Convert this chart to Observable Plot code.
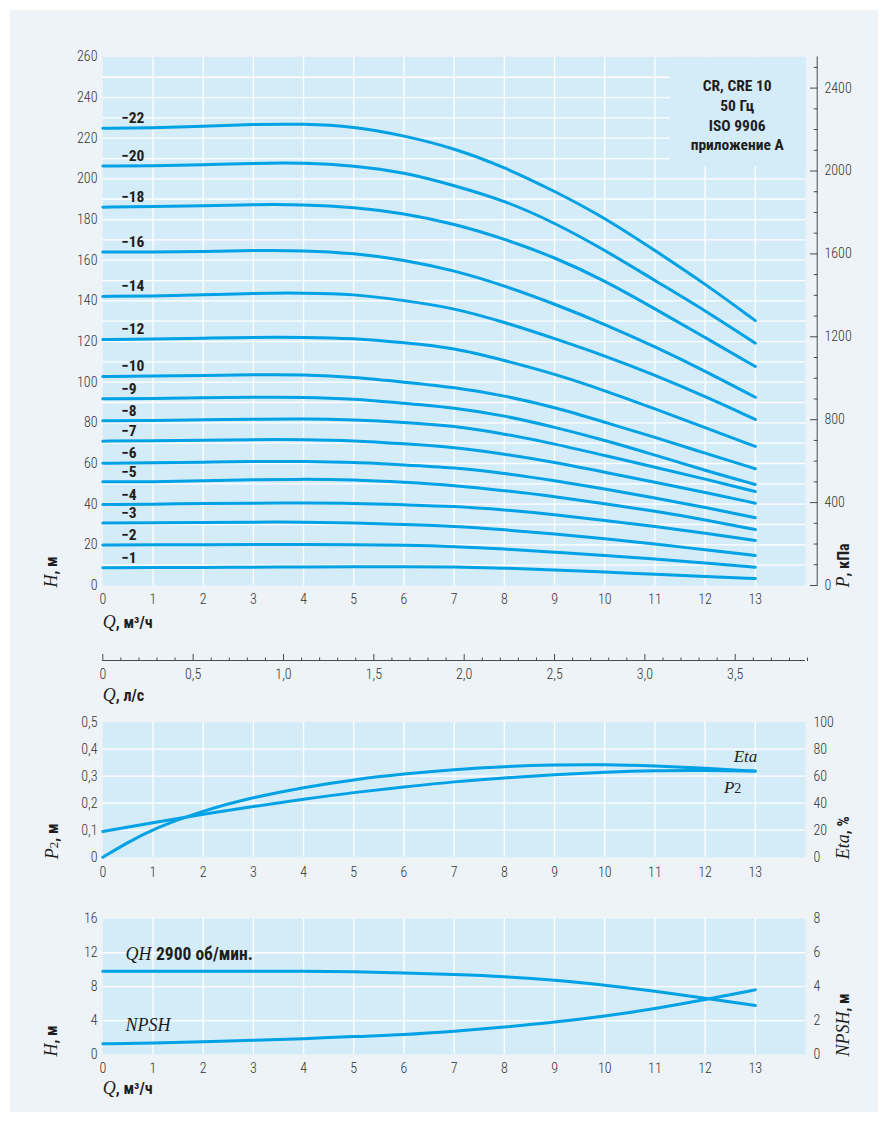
<!DOCTYPE html>
<html>
<head>
<meta charset="utf-8">
<script src="https://cdn.jsdelivr.net/npm/d3@7"></script>
<script src="https://cdn.jsdelivr.net/npm/@observablehq/plot@0.6"></script>
<style>
  html, body { margin: 0; padding: 0; background: #ffffff; }
  #page { position: relative; width: 888px; height: 1122px; overflow: hidden; }
  #panel { position: absolute; left: 10px; top: 10px; width: 868px; height: 1102px; background: #eef3f7; }
  #charts { position: absolute; left: 0; top: 0; width: 888px; }
  #charts svg { display: block; background: transparent; }
</style>
</head>
<body>
<div id="page">
  <div id="panel"></div>
  <div id="charts"></div>
</div>
<script>
// ---- data: CR / CRE 10, 50 Hz performance curves ----
const flow = [0, 1, 2, 3, 4, 5, 6, 7, 8, 9, 10, 11, 12, 13];            // Q, m³/h

// Head per pump variant (number of stages), H in m
const head22 = [224.9, 225.1, 225.9, 226.8, 227.1, 225.8, 221.3, 215.1, 205.8, 194.0, 180.9, 164.8, 148.4, 130.3];
const head20 = [206.3, 206.4, 206.9, 207.7, 207.9, 206.6, 203.3, 196.8, 189.4, 178.5, 165.0, 150.0, 135.3, 119.2];
const head18 = [186.1, 186.4, 186.8, 187.4, 187.4, 186.1, 183.1, 177.9, 170.5, 161.5, 150.0, 136.1, 122.0, 107.7];
const head16 = [164.0, 164.0, 164.3, 164.8, 164.8, 163.5, 160.2, 155.0, 147.5, 138.5, 128.5, 117.5, 105.5, 92.6];
const head14 = [142.2, 142.3, 142.9, 143.8, 143.9, 143.4, 140.2, 136.5, 129.5, 121.5, 113.0, 103.5, 93.0, 81.7];
const head12 = [121.0, 121.2, 121.6, 122.1, 122.1, 121.6, 119.4, 116.9, 110.7, 104.1, 95.9, 86.9, 77.6, 68.4];
const head10 = [102.8, 103.0, 103.2, 103.7, 103.7, 102.5, 100.0, 97.5, 93.4, 87.7, 80.3, 72.9, 65.1, 57.4];
const head9  = [91.8, 92.0, 92.3, 92.6, 92.6, 91.8, 89.6, 87.5, 83.6, 77.9, 71.5, 64.2, 56.6, 49.7];
const head8  = [81.0, 81.1, 81.5, 81.8, 82.0, 81.5, 80.3, 78.5, 74.6, 69.7, 63.9, 58.2, 52.4, 46.2];
const head7  = [71.0, 71.2, 71.5, 71.8, 71.8, 71.3, 69.7, 68.0, 64.7, 60.6, 55.7, 50.8, 45.8, 40.5];
const head6  = [60.1, 60.3, 60.6, 61.0, 61.0, 60.6, 59.3, 58.0, 55.2, 51.6, 47.5, 43.1, 38.5, 33.3];
const head5  = [51.0, 51.0, 51.5, 52.0, 52.3, 52.0, 50.8, 49.3, 46.7, 43.8, 40.2, 36.6, 32.3, 27.5];
const head4  = [39.8, 40.0, 40.3, 40.5, 40.6, 40.5, 39.7, 39.0, 37.2, 34.9, 32.0, 29.0, 25.8, 22.1];
const head3  = [30.7, 30.8, 31.0, 31.2, 31.2, 30.8, 30.0, 29.2, 27.4, 25.4, 23.0, 20.5, 17.5, 14.8];
const head2  = [19.9, 20.0, 20.1, 20.2, 20.2, 20.1, 19.8, 19.2, 18.0, 16.4, 14.8, 13.1, 11.0, 9.0];
const head1  = [8.7, 8.8, 8.9, 9.0, 9.1, 9.2, 9.3, 9.1, 8.6, 7.7, 6.6, 5.5, 4.4, 3.4];

const stageLabels = ["−22", "−20", "−18", "−16", "−14", "−12", "−10", "−9", "−8", "−7", "−6", "−5", "−4", "−3", "−2", "−1"];
const stageHeads  = [head22, head20, head18, head16, head14, head12, head10, head9, head8, head7, head6, head5, head4, head3, head2, head1];

// Shaft power P2 and efficiency
const powerP2 = [0.095, 0.128, 0.160, 0.188, 0.215, 0.240, 0.260, 0.280, 0.294, 0.306, 0.315, 0.321, 0.322, 0.319];
const etaFlow = [0, 0.5, 1, 2, 3, 4, 5, 6, 7, 8, 9, 10, 11, 12, 13];
const etaPct  = [0, 11, 21, 34.6, 44.4, 51.8, 57.5, 61.7, 65.0, 67.2, 68.4, 68.7, 67.7, 66.0, 63.7];

// Single-stage QH at 2900 rpm and NPSH
const qh2900 = [9.82, 9.82, 9.82, 9.82, 9.82, 9.79, 9.63, 9.43, 9.20, 8.80, 8.20, 7.47, 6.64, 5.78];
const npsh   = [0.63, 0.67, 0.75, 0.83, 0.93, 1.06, 1.16, 1.36, 1.61, 1.90, 2.26, 2.70, 3.24, 3.81];

// Axis ticks
const flowTicks     = [0, 1, 2, 3, 4, 5, 6, 7, 8, 9, 10, 11, 12, 13];
const headTicks     = [0, 20, 40, 60, 80, 100, 120, 140, 160, 180, 200, 220, 240, 260];
const kpaMajor      = [0, 400, 800, 1200, 1600, 2000, 2400];
const kpaMinor      = [100, 200, 300, 500, 600, 700, 900, 1000, 1100, 1300, 1400, 1500, 1700, 1800, 1900, 2100, 2200, 2300, 2500];
const lpsMajor      = [0, 0.5, 1.0, 1.5, 2.0, 2.5, 3.0, 3.5];
const lpsMinor      = [0.1, 0.2, 0.3, 0.4, 0.6, 0.7, 0.8, 0.9, 1.1, 1.2, 1.3, 1.4, 1.6, 1.7, 1.8, 1.9, 2.1, 2.2, 2.3, 2.4, 2.6, 2.7, 2.8, 2.9, 3.1, 3.2, 3.3, 3.4, 3.6, 3.7, 3.8, 3.9];
const powerTicks    = [0, 0.1, 0.2, 0.3, 0.4, 0.5];
const etaTicks      = [0, 20, 40, 60, 80, 100];
const npshHeadTicks = [0, 4, 8, 12, 16];
const npshTicks     = [0, 2, 4, 6, 8];

// ---- unit conversions ----
const KPA_PER_M = 9.81;      // kPa per metre of water
const M3H_PER_LPS = 3.6;     // m³/h per l/s
const ETA_PER_KW = 200;      // % per kW on the shared P2/Eta frame
const HEAD_PER_NPSH = 2;     // left H scale vs right NPSH scale

// ---- styling ----
const CURVE = "#00a2e5";
const PLOT_BG = "#d4ebf8";
const GRID = "#ffffff";
const AXIS = "#4a4a4a";
const INK = "#1e1e1e";
const NARROW = "'Roboto Condensed', 'Liberation Sans Narrow', 'DejaVu Sans Condensed', Roboto, sans-serif";
const SERIF = "'Liberation Serif', 'DejaVu Serif', serif";

const decimalComma = v => v === 0 ? "0" : v.toFixed(1).replace(".", ",");

const base = {
  width: 888,
  marginLeft: 102.3,
  marginRight: 83,
  x: {domain: [0, 14]},
  style: {background: "transparent", fontFamily: NARROW, fontSize: "14px", fontWeight: 300, color: "#333"}
};
const gridStyle = {stroke: GRID, strokeOpacity: 1, strokeWidth: 1.3};
const curveStyle = {stroke: CURVE, strokeWidth: 3, curve: "basis"};

// ---- tables ----
const stageTable = stageHeads.flatMap((h, i) => h.map((v, j) => ({stage: stageLabels[i], q: flow[j], h: v})));
const stageStarts = stageHeads.map((h, i) => ({stage: stageLabels[i], q: flow[0], h: h[0]}));
const p2Table = flow.map((q, i) => ({q, p: powerP2[i]}));
const etaTable = etaFlow.map((q, i) => ({q, p: etaPct[i] / ETA_PER_KW}));
const qhTable = flow.map((q, i) => ({q, h: qh2900[i]}));
const npshTable = flow.map((q, i) => ({q, h: npsh[i] * HEAD_PER_NPSH}));

// ---- chart 1: QH family with pressure and l/s axes ----
const chart1 = Plot.plot({
  ...base,
  height: 712,
  marginTop: 56.4,
  marginBottom: 127,
  y: {domain: [0, 260]},
  marks: [
    Plot.frame({fill: PLOT_BG, stroke: "none"}),
    Plot.gridX(flowTicks.slice(1), gridStyle),
    Plot.gridY(d3.range(10, 260, 10), gridStyle),
    // clear area behind the type designation block
    Plot.frame({fill: PLOT_BG, stroke: "none", insetLeft: 566.7, insetBottom: 419}),
    Plot.line(stageTable, {x: "q", y: "h", z: "stage", ...curveStyle}),
    Plot.text(stageStarts, {x: "q", y: "h", text: "stage", textAnchor: "start", dx: 18.4, dy: -10,
      fontWeight: 700, fontSize: 15.5, fill: INK}),
    Plot.axisY(headTicks, {anchor: "left", tickSize: 0, tickPadding: 5.3, label: null}),
    Plot.axisX(flowTicks, {anchor: "bottom", tickSize: 0, tickPadding: 9, label: null}),
    // pressure axis on the right
    Plot.ruleX([14], {dx: 11.7, stroke: AXIS}),
    Plot.axisY(kpaMajor.map(p => p / KPA_PER_M), {anchor: "right", dx: 4, tickSize: 7.7, tickPadding: 7.3,
      tickFormat: v => String(Math.round(v * KPA_PER_M)), stroke: AXIS, label: null}),
    Plot.axisY(kpaMinor.map(p => p / KPA_PER_M), {anchor: "right", dx: 7.7, tickSize: 4,
      tickFormat: () => "", stroke: AXIS, label: null}),
    // flow in l/s below
    Plot.ruleY([0], {dy: 75, stroke: AXIS}),
    Plot.axisX(lpsMajor.map(v => v * M3H_PER_LPS), {anchor: "top", dy: 603.6, tickSize: 7,
      tickFormat: () => "", stroke: AXIS, label: null}),
    Plot.axisX(lpsMinor.map(v => v * M3H_PER_LPS), {anchor: "top", dy: 603.6, tickSize: 3.5,
      tickFormat: () => "", stroke: AXIS, label: null}),
    Plot.axisX(lpsMajor.map(v => v * M3H_PER_LPS), {anchor: "bottom", dy: 75, tickSize: 0, tickPadding: 9,
      tickFormat: v => decimalComma(v / M3H_PER_LPS), label: null}),
    // titles
    Plot.text(["CR, CRE 10\n50 Гц\nISO 9906\nприложение A"], {frameAnchor: "top-right", dx: -68.3, dy: 57.4,
      textAnchor: "middle", lineAnchor: "middle", lineHeight: 1.28, fontWeight: 700, fontSize: 15.5, fill: INK}),
    Plot.text(["H, м"], {frameAnchor: "bottom-left", dx: -45.5, dy: 2, rotate: -90, textAnchor: "start"}),
    Plot.text(["P, кПа"], {frameAnchor: "bottom-right", dx: 43, dy: 2, rotate: -90, textAnchor: "start"}),
    Plot.text(["Q, м³/ч"], {frameAnchor: "bottom-left", dy: 42, textAnchor: "start"}),
    Plot.text(["Q, л/с"], {frameAnchor: "bottom-left", dy: 115, textAnchor: "start"})
  ]
});

// ---- chart 2: P2 and efficiency ----
const chart2 = Plot.plot({
  ...base,
  height: 178,
  marginTop: 9.7,
  marginBottom: 33.3,
  y: {domain: [0, 0.5]},
  marks: [
    Plot.frame({fill: PLOT_BG, stroke: "none"}),
    Plot.gridX(flowTicks.slice(1), gridStyle),
    Plot.gridY(powerTicks.slice(1, -1), gridStyle),
    Plot.line(p2Table, {x: "q", y: "p", ...curveStyle}),
    Plot.line(etaTable, {x: "q", y: "p", ...curveStyle}),
    Plot.axisY(powerTicks, {anchor: "left", tickSize: 0, tickPadding: 5.3, tickFormat: decimalComma, label: null}),
    Plot.axisY(etaTicks.map(v => v / ETA_PER_KW), {anchor: "right", tickSize: 0, tickPadding: 8,
      tickFormat: v => String(Math.round(v * ETA_PER_KW)), label: null}),
    Plot.axisX(flowTicks, {anchor: "bottom", tickSize: 0, tickPadding: 10, label: null}),
    Plot.text(etaTable.slice(-1), {x: "q", y: "p", text: () => "Eta", textAnchor: "end", dx: 2, dy: -13.5}),
    Plot.text(p2Table.slice(-1), {x: "q", y: "p", text: () => "P2", textAnchor: "end", dx: -14, dy: 17}),
    Plot.text(["P2, м"], {frameAnchor: "bottom-left", dx: -44.5, dy: 2, rotate: -90, textAnchor: "start"}),
    Plot.text(["Eta, %"], {frameAnchor: "bottom-right", dx: 43, dy: 2, rotate: -90, textAnchor: "start"})
  ]
});

// ---- chart 3: single-stage QH and NPSH ----
const chart3 = Plot.plot({
  ...base,
  height: 232,
  marginTop: 28.3,
  marginBottom: 68,
  y: {domain: [0, 16]},
  marks: [
    Plot.frame({fill: PLOT_BG, stroke: "none"}),
    Plot.gridX(flowTicks.slice(1), gridStyle),
    Plot.gridY(npshHeadTicks.slice(1, -1), gridStyle),
    Plot.line(qhTable, {x: "q", y: "h", ...curveStyle}),
    Plot.line(npshTable, {x: "q", y: "h", ...curveStyle}),
    Plot.axisY(npshHeadTicks, {anchor: "left", tickSize: 0, tickPadding: 5.3, label: null}),
    Plot.axisY(npshTicks.map(v => v * HEAD_PER_NPSH), {anchor: "right", tickSize: 0, tickPadding: 8,
      tickFormat: v => String(Math.round(v / HEAD_PER_NPSH)), label: null}),
    Plot.axisX(flowTicks, {anchor: "bottom", tickSize: 0, tickPadding: 9, label: null}),
    Plot.text(qhTable.slice(0, 1), {x: "q", y: "h", text: () => "QH 2900 об/мин.", textAnchor: "start", dx: 22.7, dy: -15.7}),
    Plot.text(npshTable.slice(0, 1), {x: "q", y: "h", text: () => "NPSH", textAnchor: "start", dx: 22.7, dy: -17}),
    Plot.text(["H, м"], {frameAnchor: "bottom-left", dx: -45.5, dy: 2, rotate: -90, textAnchor: "start"}),
    Plot.text(["NPSH, м"], {frameAnchor: "bottom-right", dx: 43, dy: 2, rotate: -90, textAnchor: "start"}),
    Plot.text(["Q, м³/ч"], {frameAnchor: "bottom-left", dy: 39, textAnchor: "start"})
  ]
});

// ---- mixed typography for titles (italic symbol + bold unit) ----
const italic = (t, size = 17) => ({t, family: SERIF, style: "italic", weight: 400, size});
const bold = (t, size = 16) => ({t, family: NARROW, weight: 700, size});
const rich = {
  "H, м": [italic("H", 18), bold(", м")],
  "P, кПа": [italic("P", 18), bold(", кПа")],
  "Q, м³/ч": [italic("Q", 18), bold(", м³/ч")],
  "Q, л/с": [italic("Q", 18), bold(", л/с")],
  "P2, м": [italic("P", 18), {t: "2", family: SERIF, weight: 400, size: 13}, bold(", м")],
  "Eta, %": [italic("Eta", 18), bold(", %")],
  "NPSH, м": [italic("NPSH", 18), bold(", м")],
  "Eta": [italic("Eta", 17)],
  "P2": [italic("P", 17), {t: "2", family: SERIF, weight: 400, size: 14}],
  "QH 2900 об/мин.": [italic("QH ", 18), bold("2900 об/мин.", 17.5)],
  "NPSH": [italic("NPSH", 18)]
};

for (const svg of [chart1, chart2, chart3]) {
  d3.select(svg).selectAll("text").each(function() {
    const parts = rich[this.textContent];
    if (!parts || this.querySelector("tspan")) return;
    const node = d3.select(this).text(null).attr("fill", INK);
    for (const p of parts) {
      const s = node.append("tspan").text(p.t).attr("font-family", p.family).attr("font-size", p.size)
        .attr("font-weight", p.weight);
      if (p.style) s.attr("font-style", p.style);
    }
  });
  document.getElementById("charts").append(svg);
}
</script>
</body>
</html>
